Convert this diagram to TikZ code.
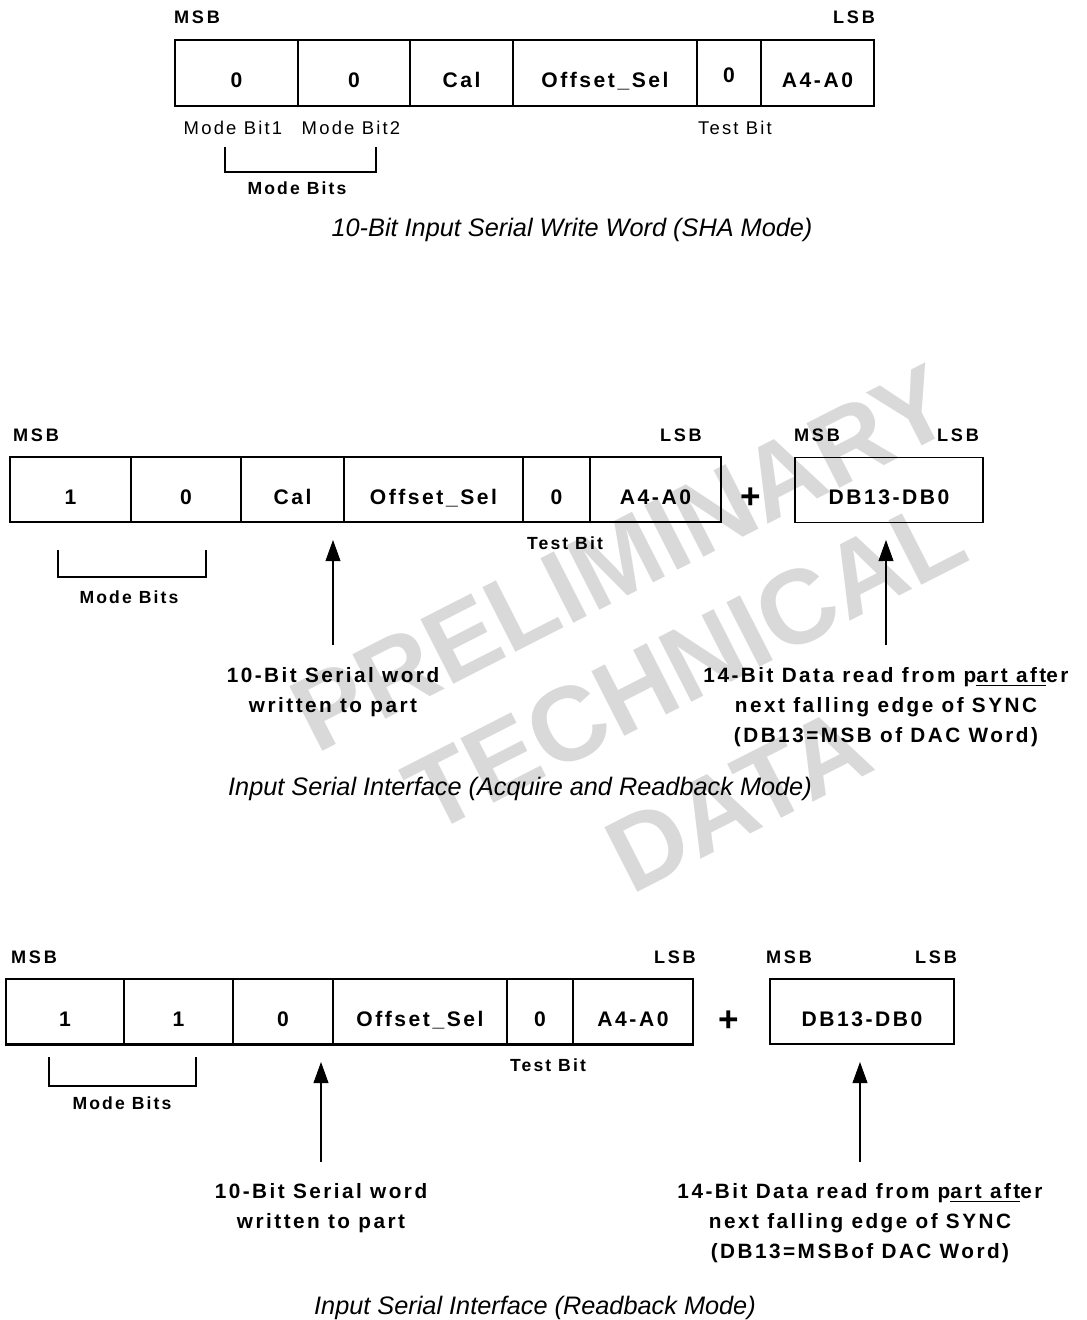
\documentclass[tikz,border=0pt]{standalone}
\usepackage{fontspec}
\setmainfont{Liberation Sans}
\newfontfamily\trk[LetterSpace=12]{Liberation Sans}
\newfontfamily\trkw[LetterSpace=15]{Liberation Sans}
\usetikzlibrary{positioning,arrows.meta}

\begin{document}
\begin{tikzpicture}[x=0.02cm, y=-0.02cm,
  cell/.style={draw, line width=0.6pt, inner sep=0pt, minimum height=1.3cm, text height=17pt, text depth=0pt, font=\trk\bfseries\fontsize{12}{14}\selectfont},
  outer/.style={draw, line width=1.1pt},
  tag/.style={anchor=base, inner sep=0pt, font=\trkw\bfseries\fontsize{10.3}{12}\selectfont},
  lbl/.style={anchor=base, inner sep=0pt, font=\trk\bfseries\fontsize{10}{12}\selectfont},
  thinlbl/.style={anchor=base, inner sep=0pt, font=\trk\fontsize{10.5}{12}\selectfont},
  note/.style={align=center, inner sep=0pt, font=\trk\bfseries\fontsize{11.8}{17}\selectfont},
  capt/.style={anchor=base, inner sep=0pt, font=\itshape\fontsize{14.4}{17}\selectfont},
  plussign/.style={inner sep=0pt, font=\bfseries\fontsize{20}{20}\selectfont},
  arr/.style={line width=0.6pt, -{Triangle[length=12pt,width=8.5pt]}},
  brace/.style={line width=0.6pt},
  wm/.style={text=black!15, inner sep=0pt, rotate=27, font=\bfseries\fontsize{60}{60}\selectfont}]
\useasboundingbox (0,0) rectangle (1087,1320);

\node[wm] (wm1) at (622,558) {PRELIMINARY};
\node[wm] (wm2) at (685,665) {TECHNICAL};
\node[wm] (wm3) at (738,800) {DATA};

% SHA mode
\node[tag] (a-msb) at (197,23) {MSB};
\node[tag] (a-lsb) at (854,23) {LSB};
\foreach \l/\r/\lab/\h [count=\i] in {175/298/0/17, 298/410/0/17, 410/513/Cal/17, 513/697/Offset\_Sel/17, 697/761/0/10.5, 761/874/A4-A0/17}
  \node[cell, minimum width={(\r-\l)*0.02cm}, text height=\h pt] (a\i) at ({(\l+\r)/2},73) {\lab};
\draw[outer] (a1.north west) rectangle (a6.south east);
\node[thinlbl] (a-mb1) at (233,134) {Mode Bit1};
\node[thinlbl] (a-mb2) at (351,134) {Mode Bit2};
\node[thinlbl] (a-tb) at (735,134) {Test Bit};
\draw[brace] (225,147) |- (376,172) -- (376,147);
\node[lbl] (a-mbs) at (297,194) {Mode Bits};
\node[capt] (a-cap) at (572,236) {10-Bit Input Serial Write Word (SHA Mode)};

% acquire and readback
\node[tag] (b-msb) at (36,441) {MSB};
\node[tag] (b-lsb) at (681,441) {LSB};
\node[tag] (b-msb2) at (817,441) {MSB};
\node[tag] (b-lsb2) at (958,441) {LSB};
\foreach \l/\r/\lab [count=\i] in {10/131/1, 131/241/0, 241/344/Cal, 344/523/Offset\_Sel, 523/590/0, 590/721/A4-A0}
  \node[cell, minimum width={(\r-\l)*0.02cm}] (b\i) at ({(\l+\r)/2},489.5) {\lab};
\draw[outer] (b1.north west) rectangle (b6.south east);
\node[plussign] (b-plus) at (751,498) {+};
\node[cell, outer, minimum width=3.76cm] (b7) at (889,490) {DB13-DB0};
\node[lbl] (b-tb) at (565,549) {Test Bit};
\draw[brace] (58,550) |- (206,577) -- (206,550);
\node[lbl] (b-mbs) at (129,603) {Mode Bits};
\coordinate (b-f1) at (333,645);
\coordinate (b-t1) at (333,540);
\coordinate (b-f2) at (886,645);
\coordinate (b-t2) at (886,540);
\draw[arr] (b-f1) -- (b-t1);
\draw[arr] (b-f2) -- (b-t2);
\node[note, below=0.44cm of b-f1] (b-w) {10-Bit Serial word\\written to part};
\node[note, below=0.44cm of b-f2] (b-r) {14-Bit Data read from p\underline{art aft}er\\next falling edge of SYNC\\(DB13=MSB of DAC Word)};
\node[capt] (b-cap) at (520,795) {Input Serial Interface (Acquire and Readback Mode)};

% readback
\node[tag] (c-msb) at (34,963) {MSB};
\node[tag] (c-lsb) at (675,963) {LSB};
\node[tag] (c-msb2) at (789,963) {MSB};
\node[tag] (c-lsb2) at (936,963) {LSB};
\foreach \l/\r/\lab [count=\i] in {6/124/1, 124/233/1, 233/333/0, 333/507/Offset\_Sel, 507/573/0, 573/693/A4-A0}
  \node[cell, minimum width={(\r-\l)*0.02cm}] (c\i) at ({(\l+\r)/2},1011.5) {\lab};
\draw[outer] (c1.north west) rectangle (c6.south east);
\node[plussign] (c-plus) at (729,1021) {+};
\node[cell, outer, minimum width=3.68cm] (c7) at (862,1011.5) {DB13-DB0};
\node[lbl] (c-tb) at (548,1071) {Test Bit};
\draw[brace] (49,1057) |- (196,1086) -- (196,1057);
\node[lbl] (c-mbs) at (122,1109) {Mode Bits};
\coordinate (c-f1) at (321,1162);
\coordinate (c-t1) at (321,1062);
\coordinate (c-f2) at (860,1162);
\coordinate (c-t2) at (860,1062);
\draw[arr] (c-f1) -- (c-t1);
\draw[arr] (c-f2) -- (c-t2);
\node[note, below=0.42cm of c-f1] (c-w) {10-Bit Serial word\\written to part};
\node[note, below=0.42cm of c-f2] (c-r) {14-Bit Data read from p\underline{art aft}er\\next falling edge of SYNC\\(DB13=MSBof DAC Word)};
\node[capt] (c-cap) at (535,1314) {Input Serial Interface (Readback Mode)};
\end{tikzpicture}
\end{document}
